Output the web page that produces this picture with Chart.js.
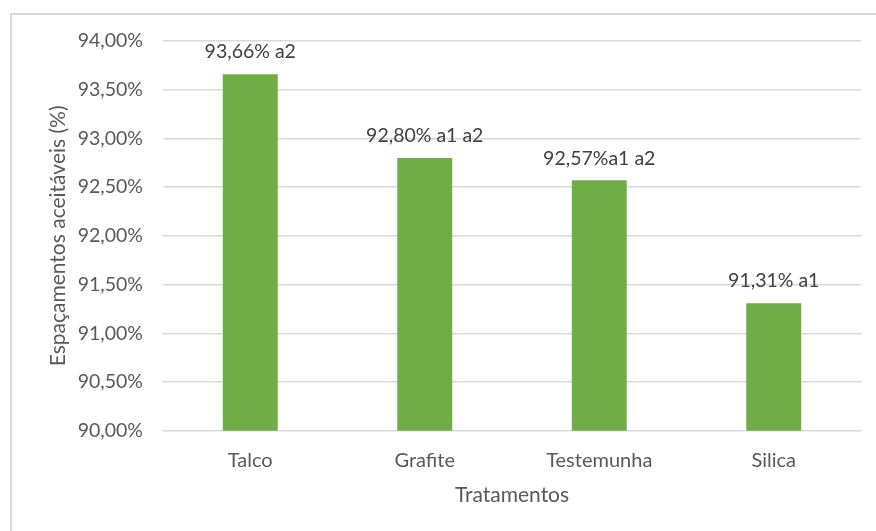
<!DOCTYPE html>
<html>
<head>
<meta charset="utf-8">
<script src="https://cdn.jsdelivr.net/npm/chart.js@4/dist/chart.umd.min.js"></script>
<style>
  html, body { margin: 0; padding: 0; background: #fff; overflow: hidden; }
  #frame { position: absolute; left: 10px; top: 13px; width: 1000px; height: 1000px; border: 2px solid #d9d9d9; }
  #wrap { position: absolute; left: 0; top: 0; width: 876px; height: 531px; }
</style>
</head>
<body>
<div id="frame"></div>
<div id="wrap"><canvas id="grafico"></canvas></div>
<script>
// Tratamentos e valores (%)
const tratamentos = ["Talco", "Grafite", "Testemunha", "Silica"];
const espacamentos = [93.66, 92.80, 92.57, 91.31];
const rotulos = ["93,66% a2", "92,80% a1 a2", "92,57%a1 a2", "91,31% a1"];

const corBarra = "#70ad47";
const corTexto = "#595959";

// Rótulos acima das barras
const rotulosBarras = {
  id: "rotulosBarras",
  afterDatasetsDraw(chart) {
    const ctx = chart.ctx;
    const meta = chart.getDatasetMeta(0);
    ctx.save();
    ctx.font = "19.5px Lato";
    ctx.fillStyle = "#404040";
    ctx.textAlign = "center";
    ctx.textBaseline = "middle";
    meta.data.forEach((barra, i) => {
      ctx.fillText(rotulos[i], barra.x, barra.y - 22);
    });
    ctx.restore();
  }
};

const canvas = document.getElementById("grafico");

new Chart(canvas, {
  type: "bar",
  data: {
    labels: tratamentos,
    datasets: [
      {
        data: espacamentos,
        backgroundColor: corBarra,
        categoryPercentage: 1,
        barPercentage: 0.315,
      },
    ],
  },
  options: {
    responsive: true,
    maintainAspectRatio: false,
    animation: false,
    layout: { padding: { top: 41, right: 15, bottom: 23, left: 0 } },
    plugins: {
      legend: { display: false },
      tooltip: { enabled: false },
    },
    scales: {
      x: {
        grid: { display: false },
        border: { display: false },
        ticks: { color: corTexto, font: { family: "Lato", size: 20 }, padding: 10 },
        title: {
          display: true,
          text: "Tratamentos",
          color: corTexto,
          font: { family: "Lato", size: 21 },
          padding: { top: 0, bottom: 0 },
        },
      },
      y: {
        min: 90,
        max: 94,
        grid: { color: "#d9d9d9", lineWidth: 1.5, drawTicks: false },
        border: { display: false },
        ticks: {
          stepSize: 0.5,
          color: corTexto,
          font: { family: "Lato", size: 19.5 },
          padding: 20,
          callback: v => v.toFixed(2).replace(".", ",") + "%",
        },
        title: {
          display: true,
          text: "Espaçamentos aceitáveis (%)",
          color: corTexto,
          font: { family: "Lato", size: 21 },
          padding: { top: 46, bottom: 0 },
        },
        afterFit: s => { s.width = 163; },
      },
    },
  },
  plugins: [rotulosBarras],
});
</script>
</body>
</html>
